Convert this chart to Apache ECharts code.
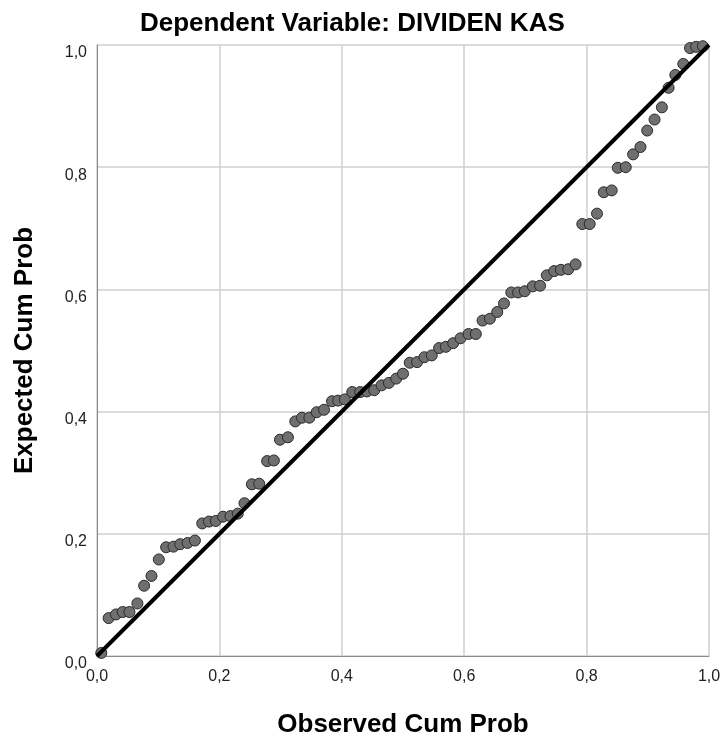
<!DOCTYPE html>
<html>
<head>
<meta charset="utf-8">
<script src="https://cdn.jsdelivr.net/npm/echarts@6/dist/echarts.min.js"></script>
<style>
  html, body { margin: 0; padding: 0; background: #fff; }
  #main { width: 725px; height: 743px; }
</style>
</head>
<body>
<div id="main"></div>
<script>
// observed cum prob (x) and expected cum prob (y)
const observed = [
    0.007, 0.019, 0.031, 0.042, 0.053, 0.066, 0.077, 0.089, 0.101, 0.113,
    0.125, 0.136, 0.148, 0.160, 0.172, 0.183, 0.194, 0.206, 0.218, 0.230,
    0.241, 0.253, 0.265, 0.278, 0.289, 0.299, 0.312, 0.324, 0.335, 0.347,
    0.359, 0.371, 0.384, 0.394, 0.405, 0.417, 0.430, 0.441, 0.453, 0.465,
    0.477, 0.489, 0.500, 0.511, 0.523, 0.535, 0.547, 0.559, 0.570, 0.582,
    0.594, 0.607, 0.619, 0.630, 0.642, 0.654, 0.665, 0.677, 0.688, 0.699,
    0.712, 0.724, 0.735, 0.747, 0.758, 0.770, 0.782, 0.793, 0.805, 0.817,
    0.828, 0.841, 0.851, 0.864, 0.876, 0.888, 0.899, 0.911, 0.923, 0.934,
    0.945, 0.958, 0.969, 0.979, 0.990
];
const expected = [
    0.005, 0.062, 0.068, 0.072, 0.072, 0.086, 0.115, 0.131, 0.158, 0.178,
    0.179, 0.183, 0.185, 0.189, 0.217, 0.220, 0.221, 0.228, 0.229, 0.233,
    0.250, 0.281, 0.282, 0.319, 0.320, 0.354, 0.358, 0.384, 0.390, 0.390,
    0.399, 0.403, 0.417, 0.418, 0.420, 0.432, 0.432, 0.433, 0.435, 0.443,
    0.447, 0.454, 0.462, 0.480, 0.481, 0.489, 0.492, 0.504, 0.506, 0.512,
    0.520, 0.527, 0.527, 0.549, 0.552, 0.563, 0.577, 0.595, 0.595, 0.597,
    0.605, 0.606, 0.623, 0.630, 0.632, 0.633, 0.641, 0.707, 0.707, 0.724,
    0.759, 0.762, 0.799, 0.800, 0.821, 0.833, 0.860, 0.878, 0.898, 0.930,
    0.951, 0.969, 0.995, 0.997, 0.998
];
// reference diagonal
const diagonal = [[0, 0], [1, 1]];
const tickLabels = ['0,0', '0,2', '0,4', '0,6', '0,8', '1,0'];

const fontFam = 'Liberation Sans, Arial, sans-serif';
const points = observed.map((x, i) => [x, expected[i]]);

function axisOpt(name, gap, isY) {
    return {
        type: 'value',
        min: 0,
        max: 1,
        interval: 0.2,
        name: name,
        nameLocation: 'middle',
        nameGap: gap,
        nameTextStyle: { fontFamily: fontFam, fontSize: 26, fontWeight: 'bold', color: '#000' },
        axisLine: { show: true, lineStyle: { color: '#8a8a8a', width: 1 } },
        axisTick: { show: false },
        axisLabel: {
            fontFamily: fontFam,
            fontSize: 16,
            color: '#222',
            margin: isY ? 10 : 13,
            verticalAlign: isY ? 'top' : undefined,
            formatter: v => tickLabels[Math.round(v * 5)]
        },
        splitLine: { show: true, lineStyle: { color: '#cfcfcf', width: 1.5 } }
    };
}

const myChart = echarts.init(document.getElementById('main'), null, { renderer: 'canvas' });
myChart.setOption({
    animation: false,
    backgroundColor: '#fff',
    title: {
        text: 'Dependent Variable: DIVIDEN KAS',
        left: 135,
        top: 6,
        textStyle: { fontFamily: fontFam, fontSize: 26, fontWeight: 'bold', color: '#000' }
    },
    grid: { left: 97, top: 45, width: 612, height: 613, containLabel: false },
    xAxis: axisOpt('Observed Cum Prob', 56, false),
    yAxis: axisOpt('Expected Cum Prob', 59, true),
    series: [
        {
            type: 'scatter',
            data: points,
            symbolSize: 11,
            itemStyle: { color: '#6f6f6f', borderColor: '#2a2a2a', borderWidth: 1, opacity: 1 },
            z: 2
        },
        {
            type: 'line',
            data: diagonal,
            showSymbol: false,
            lineStyle: { color: '#000', width: 4 },
            z: 3
        }
    ]
});
</script>
</body>
</html>
